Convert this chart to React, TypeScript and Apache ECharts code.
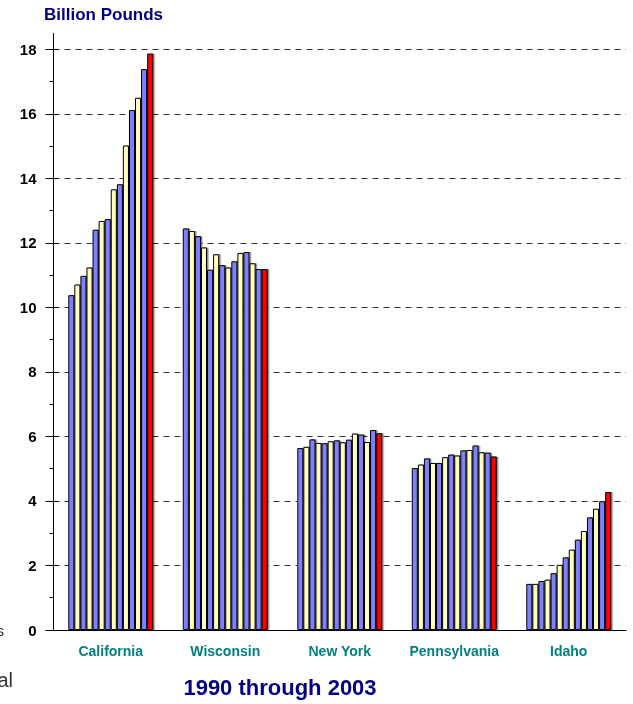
import React, { useEffect, useRef } from "react";
import * as echarts from "echarts";

const states = ["California", "Wisconsin", "New York", "Pennsylvania", "Idaho"];
const years = [1990, 1991, 1992, 1993, 1994, 1995, 1996, 1997, 1998, 1999, 2000, 2001, 2002, 2003];

const california = [10.38, 10.71, 10.98, 11.24, 12.41, 12.68, 12.74, 13.66, 13.82, 15.02, 16.12, 16.5, 17.39, 17.87];
const wisconsin = [12.45, 12.37, 12.21, 11.86, 11.17, 11.65, 11.31, 11.24, 11.43, 11.69, 11.72, 11.37, 11.19, 11.19];
const newYork = [5.64, 5.68, 5.91, 5.8, 5.79, 5.85, 5.88, 5.82, 5.9, 6.09, 6.06, 5.83, 6.2, 6.1];
const pennsylvania = [5.02, 5.13, 5.32, 5.18, 5.18, 5.36, 5.44, 5.41, 5.57, 5.58, 5.72, 5.51, 5.5, 5.38];
const idaho = [1.43, 1.43, 1.52, 1.56, 1.76, 2.02, 2.25, 2.49, 2.8, 3.07, 3.49, 3.76, 3.99, 4.28];

const yMajorTicks = [0, 2, 4, 6, 8, 10, 12, 14, 16, 18];
const yMinorTicks = [1, 3, 5, 7, 9, 11, 13, 15, 17];

const BLUE = "#8080FF";
const YELLOW = "#FFFFC0";
const RED = "#FF0000";
const FONT = "'Liberation Sans', Arial, sans-serif";

export default function App() {
  const ref = useRef<HTMLDivElement>(null);
  useEffect(() => {
    if (!ref.current) return;
    const chart = echarts.init(ref.current, null, { renderer: "svg" });
    const byState = [california, wisconsin, newYork, pennsylvania, idaho];
    const series = years.map((yr, i) => ({
      type: "bar",
      name: String(yr),
      yAxisIndex: 0,
      data: byState.map((arr) => arr[i]),
      barGap: "0%",
      barCategoryGap: "25.8%",
      itemStyle: {
        color: i === years.length - 1 ? RED : i % 2 === 0 ? BLUE : YELLOW,
        borderColor: "#000",
        borderWidth: 1,
        shadowColor: "rgba(0,0,0,0.45)",
        shadowOffsetX: 1.5,
        shadowOffsetY: 0,
        shadowBlur: 1,
      },
    }));
    const commonY = { type: "value", min: 0, max: 18.5, position: "left" };
    chart.setOption({
      animation: false,
      textStyle: { fontFamily: FONT },
      grid: { left: 53.5, right: 7, top: 33.3, bottom: 74, containLabel: false },
      xAxis: {
        type: "category",
        data: states,
        axisLine: { show: true, lineStyle: { color: "#000", width: 1 } },
        axisTick: { show: false },
        axisLabel: { interval: 0, color: "#008080", fontWeight: "bold", fontSize: 14, margin: 14, fontFamily: FONT },
      },
      yAxis: [
        {
          ...commonY,
          interval: 2,
          axisLine: { show: true, lineStyle: { color: "#000", width: 1 } },
          axisTick: { show: true, length: 8, customValues: yMajorTicks, lineStyle: { color: "#000", width: 1 } },
          axisLabel: {
            customValues: yMajorTicks,
            color: "#000",
            fontWeight: "bold",
            fontSize: 15,
            margin: 17,
            fontFamily: FONT,
          },
          splitLine: {
            show: true,
            showMinLine: false,
            lineStyle: { color: "#333", type: [6, 5], width: 1 },
          },
        },
        {
          ...commonY,
          axisLine: { show: false },
          axisTick: { show: true, length: 4, customValues: yMinorTicks, lineStyle: { color: "#000", width: 1 } },
          axisLabel: { show: false },
          splitLine: { show: false },
        },
        {
          ...commonY,
          axisLine: { show: false },
          axisTick: { show: true, inside: true, length: 5, customValues: yMajorTicks, lineStyle: { color: "#000", width: 1 } },
          axisLabel: { show: false },
          splitLine: { show: false },
        },
      ],
      series,
      graphic: [
        {
          type: "text",
          left: 44,
          top: 6,
          style: { text: "Billion Pounds", fill: "#000080", font: `bold 17px ${FONT}` },
        },
        {
          type: "text",
          x: 280,
          y: 687,
          style: {
            text: "1990 through 2003",
            fill: "#000080",
            font: `bold 22px ${FONT}`,
            align: "center",
            verticalAlign: "middle",
          },
        },
        {
          type: "text",
          x: 4,
          y: 631,
          style: { text: "s", fill: "#222", font: `14px ${FONT}`, align: "right", verticalAlign: "middle" },
        },
        {
          type: "text",
          x: 13,
          y: 680,
          style: { text: "al", fill: "#333", font: `20px ${FONT}`, align: "right", verticalAlign: "middle" },
        },
      ],
    });
    return () => chart.dispose();
  }, []);
  return <div ref={ref} style={{ position: "fixed", left: 0, top: 0, width: 633, height: 704 }} />;
}
